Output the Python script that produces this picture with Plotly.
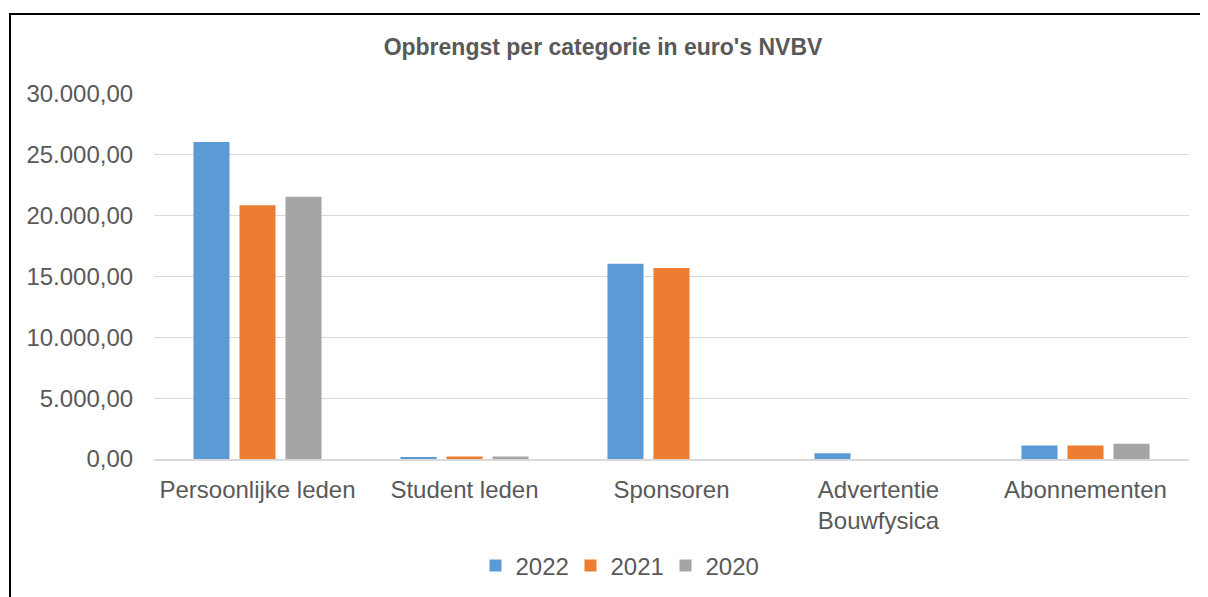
import plotly.graph_objects as go

categories = ["Persoonlijke leden", "Student leden", "Sponsoren", "Advertentie<br>Bouwfysica", "Abonnementen"]
v2022 = [26050, 120, 16050, 480, 1110]
v2021 = [20850, 200, 15700, 0, 1110]
v2020 = [21550, 200, 0, 0, 1250]
y_ticks = [0, 5000, 10000, 15000, 20000, 25000, 30000]

OFF = 8  # default body margin of the html page
W, H = 1208 - OFF, 597 - OFF
L, T = 154 - OFF, 94 - OFF
R = W - (1189 - OFF)
B = H - (459 - OFF)
pw, ph = W - L - R, H - T - B

def px_x(p):  # page pixel -> paper x
    return (p - OFF - L) / pw

def px_y(p):  # page pixel -> paper y
    return (H - B - (p - OFF)) / ph

fig = go.Figure()
for name, vals, col in [("2022", v2022, "#5B9BD5"), ("2021", v2021, "#ED7D31"), ("2020", v2020, "#A5A5A5")]:
    fig.add_trace(go.Bar(x=categories, y=vals, name=name, marker=dict(color=col, line=dict(width=0))))

fig.update_layout(
    width=W, height=H,
    margin=dict(l=L, r=R, t=T, b=B, pad=0, autoexpand=False),
    paper_bgcolor="white", plot_bgcolor="white",
    separators=",.",
    barmode="group", bargap=0.333, bargroupgap=0.217,
    font=dict(family="Liberation Sans, Arial, sans-serif", color="#595959", size=24),
    title=dict(text="<b>Opbrengst per categorie in euro's NVBV</b>",
               x=(603 - OFF) / W, xanchor="center", xref="container",
               y=1 - (47 - OFF) / H, yanchor="middle", yref="container",
               font=dict(size=23, color="#595959")),
    xaxis=dict(showgrid=False, showline=True, linecolor="#D9D9D9", linewidth=1.5,
               ticks="outside", ticklen=8, tickcolor="rgba(0,0,0,0)", automargin=False,
               tickfont=dict(size=24, color="#595959")),
    yaxis=dict(range=[0, 30000], tickvals=y_ticks, tickformat=",.2f",
               showgrid=True, gridcolor="#D9D9D9", gridwidth=1, zeroline=False,
               showline=False, ticks="outside", ticklen=15, tickcolor="rgba(0,0,0,0)",
               automargin=False, tickfont=dict(size=24, color="#595959")),
    legend=dict(orientation="h", x=px_x(618), xanchor="center",
                y=px_y(566), yanchor="middle", font=dict(size=24, color="#595959"),
                itemwidth=30, entrywidth=50, entrywidthmode="pixels",
                bgcolor="rgba(0,0,0,0)"),
    showlegend=True,
)

fig.add_shape(type="line", xref="paper", yref="paper",
              x0=px_x(10), x1=px_x(10), y0=px_y(14), y1=px_y(620),
              line=dict(color="black", width=2))
fig.add_shape(type="line", xref="paper", yref="paper",
              x0=px_x(9), x1=px_x(1230), y0=px_y(14), y1=px_y(14),
              line=dict(color="black", width=2))

fig.write_html("out.html")
